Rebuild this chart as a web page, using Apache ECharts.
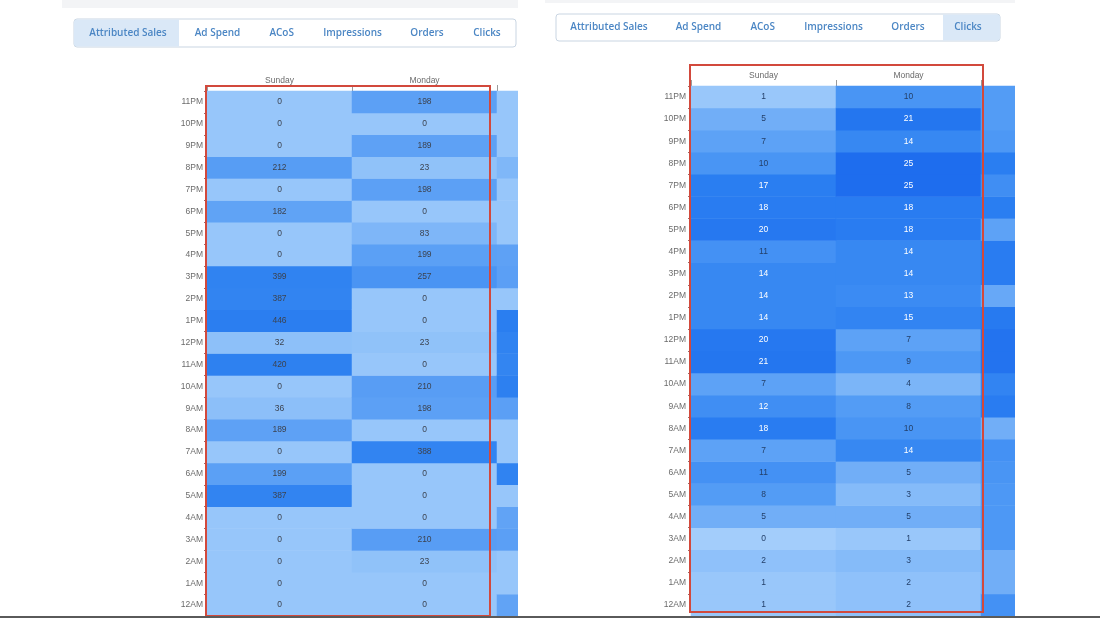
<!DOCTYPE html>
<html><head><meta charset="utf-8">
<script src="https://cdn.jsdelivr.net/npm/echarts@6/dist/echarts.min.js"></script>
<style>
html,body{margin:0;padding:0;background:#fff;width:1100px;height:618px;overflow:hidden;}
.panel{position:absolute;top:0;height:616px;overflow:hidden;background:#fff;}
#leftPanel{left:62px;width:456px;}
#rightPanel{left:545px;width:470px;}
#leftChart{position:absolute;left:0;top:0;width:700px;height:616px;}
#rightChart{position:absolute;left:0;top:0;width:900px;height:616px;}
#baseLine{position:absolute;left:0;top:616px;width:1100px;height:2px;background:#5a5a5a;}
</style>
</head>
<body>
<div id="leftPanel" class="panel"><div id="leftChart"></div></div>
<div id="rightPanel" class="panel"><div id="rightChart"></div></div>
<div id="baseLine"></div>
<script>
// ---------- data ----------
const hours = ['12AM','1AM','2AM','3AM','4AM','5AM','6AM','7AM','8AM','9AM','10AM','11AM',
               '12PM','1PM','2PM','3PM','4PM','5PM','6PM','7PM','8PM','9PM','10PM','11PM'];
const days = ['Sunday','Monday','Tuesday'];
const tabs = ['Attributed Sales','Ad Spend','ACoS','Impressions','Orders','Clicks'];

// Attributed Sales (12AM -> 11PM)
const salesSunday  = [0,0,0,0,0,387,199,0,189,36,0,420,32,446,387,399,0,0,182,0,212,0,0,0];
const salesMonday  = [0,0,23,210,0,0,0,388,0,198,210,0,23,0,0,257,199,83,0,198,23,189,0,198];
const salesTuesday = [180,0,0,200,180,0,400,0,0,200,430,380,400,450,0,200,190,0,0,0,80,0,0,0];

// Clicks (12AM -> 11PM)
const clicksSunday  = [1,1,2,0,5,8,11,7,18,12,7,21,20,14,14,14,11,20,18,17,10,7,5,1];
const clicksMonday  = [2,2,3,1,5,3,5,14,10,8,4,9,7,15,13,14,14,18,18,25,25,14,21,10];
const clicksTuesday = [11,5,5,9,9,9,10,11,5,18,15,22,22,19,6,18,18,7,17,12,17,9,8,8];

// ---------- helpers ----------
function cells(cols) {
  const out = [];
  cols.forEach((col, d) => col.forEach((v, h) => out.push([d, h, v])));
  return out;
}
const TAB_CENTERS = [0, 89.5, 153.7, 224.5, 299, 359]; // offsets from first tab centre
function tabGraphics(x0, y0, w, h, firstCenter, activeIdx, activeX, activeW, bandH) {
  const g = [];
  g.push({type:'rect', shape:{x:-10, y:0, width:1200, height:bandH}, style:{fill:'#f3f4f6'}, z:1});
  g.push({type:'rect', shape:{x:x0, y:y0, width:w, height:h, r:3},
          style:{fill:'#ffffff', stroke:'#c9d5e2', lineWidth:1}, z:1});
  g.push({type:'rect', shape:{x:activeX, y:y0+0.5, width:activeW, height:h-1,
          r: activeIdx === 0 ? [3,0,0,3] : [0,3,3,0]},
          style:{fill:'#dae8f7'}, z:2});
  tabs.forEach((t, i) => {
    g.push({type:'text', x:firstCenter + TAB_CENTERS[i], y:y0 + h/2, z:3,
      style:{text:t, align:'center', verticalAlign:'middle',
             font:'600 10px "Open Sans", sans-serif', fill:'#4b86c4'}});
  });
  return g;
}
function makeOption(cfg) {
  return {
    animation:false,
    backgroundColor:'#ffffff',
    grid:{left:cfg.gridLeft, top:cfg.gridTop, width:cfg.colW*3, height:cfg.gridH},
    xAxis:{type:'category', data:days, position:'top',
      axisLine:{show:false},
      axisTick:{show:true, length:6, lineStyle:{color:'#9a9a9a'}},
      axisLabel:{color:'#6b6b6b', fontSize:8.5, fontFamily:'"Liberation Sans", Arial, sans-serif', margin:cfg.xMargin},
      splitLine:{show:false}},
    yAxis:{type:'category', data:hours,
      axisLine:{show:false},
      axisTick:{show:true, length:3, lineStyle:{color:'#9a6a6a'}},
      axisLabel:{color:'#6b6b6b', fontSize:8.5, fontFamily:'"Liberation Sans", Arial, sans-serif', margin:cfg.yMargin},
      splitLine:{show:false}},
    visualMap:{show:false, min:0, max:cfg.max, dimension:2, inRange:{color:cfg.colors}},
    series:[{type:'heatmap', data:cells(cfg.cols),
      itemStyle:{borderWidth:0},
      label:{show:true, fontSize:8.5, fontFamily:'"Liberation Sans", Arial, sans-serif',
        formatter: p => (cfg.whiteFrom !== null && p.value[2] >= cfg.whiteFrom) ? '{w|' + p.value[2] + '}' : '{d|' + p.value[2] + '}',
        rich:{w:{color:'#ffffff', fontSize:8.5}, d:{color:cfg.darkLabel, fontSize:8.5}}},
      emphasis:{disabled:true}}],
    graphic: tabGraphics(cfg.tab.x, cfg.tab.y, cfg.tab.w, cfg.tab.h, cfg.tab.first, cfg.tab.active,
                         cfg.tab.ax, cfg.tab.aw, cfg.bandH)
      .concat([{type:'rect', z:50, shape:cfg.redBox,
                style:{fill:'none', stroke:'#d2493c', lineWidth:2}}])
  };
}

const left = echarts.init(document.getElementById('leftChart'), null, {renderer:'canvas'});
left.setOption(makeOption({
  gridLeft:145, gridTop:91, colW:145, gridH:525, xMargin:6, yMargin:4,
  max:450, colors:['#97c6fa','#6aa9f6','#3d8cf2','#2a7ef0'],
  cols:[salesSunday, salesMonday, salesTuesday], whiteFrom:null, darkLabel:'#3c4350',
  bandH:8,
  tab:{x:12, y:19, w:442, h:28, first:66, active:0, ax:12, aw:105},
  redBox:{x:144, y:86, width:284, height:530}
}));

const right = echarts.init(document.getElementById('rightChart'), null, {renderer:'canvas'});
right.setOption(makeOption({
  gridLeft:146, gridTop:86, colW:145, gridH:530, xMargin:6, yMargin:5,
  max:25, colors:['#a3cdfb','#509af5','#2b7ff1','#1e6dee'],
  cols:[clicksSunday, clicksMonday, clicksTuesday], whiteFrom:12, darkLabel:'#24406a',
  bandH:3,
  tab:{x:11, y:14, w:444, h:27, first:64, active:5, ax:398, aw:57},
  redBox:{x:145, y:65, width:293, height:547}
}));
</script>
</body></html>
